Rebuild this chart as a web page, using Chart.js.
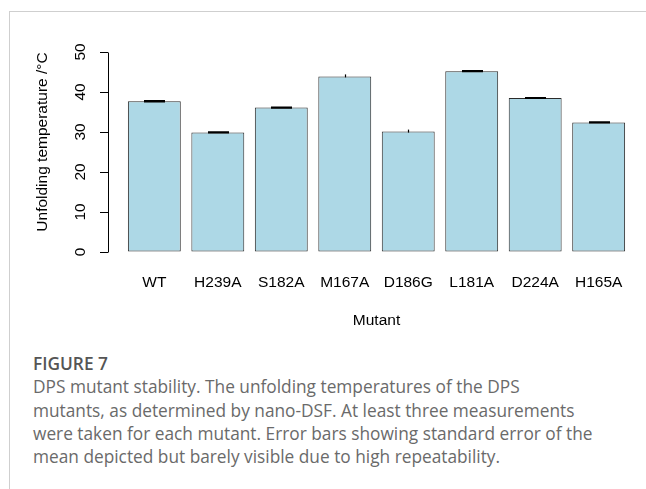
<!DOCTYPE html>
<html>
<head>
<meta charset="utf-8">
<script src="https://cdn.jsdelivr.net/npm/chart.js@4/dist/chart.umd.min.js"></script>
<style>
  body { margin: 0; background: #fff; }
  #page { position: relative; width: 646px; height: 489px; overflow: hidden; background: #fff; }
  #frame { position: absolute; left: 9px; top: 11px; right: 0; bottom: 0;
           border-top: 1px solid #cfcfcf; border-left: 1px solid #cfcfcf; }
  #chart { position: absolute; left: 0; top: 0; }
  #caption { position: absolute; left: 33px; top: 352px; font-family: "Open Sans", sans-serif;
             font-size: 17.3px; line-height: 23.3px; color: #6a6a6a; white-space: nowrap; }
  #caption b { font-weight: 600; color: #555; }
</style>
</head>
<body>
<div id="page">
  <div id="frame"></div>
  <canvas id="chart" width="646" height="340"></canvas>
  <div id="caption">
    <b>FIGURE 7</b><br>
    DPS mutant stability. The unfolding temperatures of the DPS<br>
    mutants, as determined by nano-DSF. At least three measurements<br>
    were taken for each mutant. Error bars showing standard error of the<br>
    mean depicted but barely visible due to high repeatability.
  </div>
</div>
<script>
// Data
const mutants = ["WT", "H239A", "S182A", "M167A", "D186G", "L181A", "D224A", "H165A"];
const meltTemps = [37.7, 29.9, 36.1, 43.9, 30.1, 45.2, 38.5, 32.4];
const stdErrors = [0.15, 0.12, 0.15, 0, 0, 0.12, 0.1, 0.12];
const yTicks = [0, 10, 20, 30, 40, 50];

const axisFont = { family: "'Liberation Sans', Arial, Helvetica, sans-serif", size: 15.5 };

// Error bars plus the R-style y axis line (only spans the tick range)
const errorBars = {
  id: "errorBars",
  afterDatasetsDraw(chart) {
    const { ctx, scales: { y } } = chart;
    const bars = chart.getDatasetMeta(0).data;
    ctx.save();
    ctx.strokeStyle = "#000";
    ctx.lineWidth = 1.2;
    bars.forEach((bar, i) => {
      const x = Math.round(bar.x) + 0.5;
      if (stdErrors[i] > 0) {
        const hi = y.getPixelForValue(meltTemps[i] + stdErrors[i]);
        const lo = y.getPixelForValue(meltTemps[i] - stdErrors[i]);
        ctx.beginPath();
        ctx.moveTo(x, lo); ctx.lineTo(x, hi);
        ctx.moveTo(x - 10.5, hi); ctx.lineTo(x + 10.5, hi);
        ctx.moveTo(x - 10.5, lo); ctx.lineTo(x + 10.5, lo);
        ctx.stroke();
      } else {
        // too small to draw, leaves only a speck
        const top = y.getPixelForValue(meltTemps[i]);
        ctx.beginPath();
        ctx.moveTo(x, top - 2); ctx.lineTo(x, top + 1);
        ctx.stroke();
      }
    });
    ctx.lineWidth = 1;
    const ax = Math.round(chart.chartArea.left) + 0.5;
    ctx.beginPath();
    ctx.moveTo(ax, Math.round(y.getPixelForValue(yTicks[0])) + 0.5);
    ctx.lineTo(ax, Math.round(y.getPixelForValue(yTicks[yTicks.length - 1])) + 0.5);
    ctx.stroke();
    ctx.restore();
  }
};

new Chart(document.getElementById("chart"), {
  type: "bar",
  data: {
    datasets: [{
      data: mutants.map((m, i) => ({ x: i, y: meltTemps[i] })),
      backgroundColor: "#ADD8E6",
      borderColor: "#2b2b2b",
      borderWidth: 1,
      borderSkipped: false,
      categoryPercentage: 1,
      barPercentage: 1 / 1.2
    }]
  },
  options: {
    responsive: false,
    animation: false,
    events: [],
    layout: { padding: { top: 32, right: 1, bottom: 0, left: 0 } },
    plugins: { legend: { display: false }, tooltip: { enabled: false } },
    scales: {
      x: {
        type: "linear",
        offset: false,
        min: -0.73,
        max: 7.73,
        afterBuildTicks: (s) => { s.ticks = mutants.map((m, i) => ({ value: i })); },
        afterFit: (s) => { s.height = 88; s.paddingLeft = 0; s.paddingRight = 0; },
        border: { display: false },
        grid: { display: false, offset: false },
        ticks: {
          callback: (v) => mutants[v],
          autoSkip: false,
          maxRotation: 0,
          padding: 13,
          color: "#000",
          font: axisFont
        },
        title: { display: true, text: "Mutant", color: "#000", font: axisFont, padding: { top: 0, bottom: 10 } }
      },
      y: {
        min: 0,
        max: 55,
        afterBuildTicks: (s) => { s.ticks = yTicks.map((v) => ({ value: v })); },
        afterFit: (s) => { s.width = 108; s.paddingTop = 0; s.paddingBottom = 0; },
        border: { display: false },
        grid: { drawOnChartArea: false, drawTicks: true, tickLength: 8, color: "#000", lineWidth: 1 },
        ticks: {
          minRotation: 90,
          maxRotation: 90,
          crossAlign: "center",
          autoSkip: false,
          padding: 11,
          color: "#000",
          font: axisFont
        },
        title: { display: true, text: "Unfolding temperature /°C", color: "#000", font: axisFont, padding: { top: 33, bottom: 0 } }
      }
    }
  },
  plugins: [errorBars]
});
</script>
</body>
</html>
